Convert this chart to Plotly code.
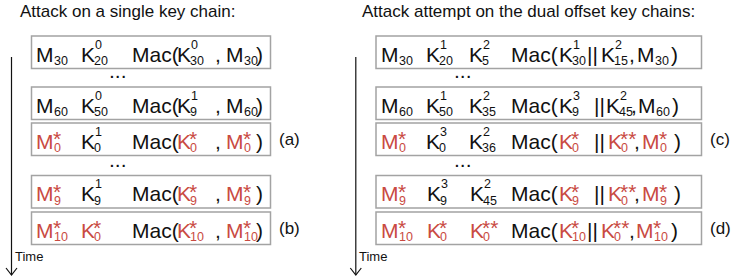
import plotly.graph_objects as go

# ---------------- data ----------------
left_title = "Attack on a single key chain:"
right_title = "Attack attempt on the dual offset key chains:"
axis_label = "Time"

# token = (base, subscript, superscript, is_red)
left_rows = [
    [("M", "30", "", 0), ("K", "20", "0", 0), ("Mac(", "", "", 0), ("K", "30", "0", 0), (",", "", "", 0), ("M", "30", "", 0), (")", "", "", 0)],
    [("M", "60", "", 0), ("K", "50", "0", 0), ("Mac(", "", "", 0), ("K", "9", "1", 0), (",", "", "", 0), ("M", "60", "", 0), (")", "", "", 0)],
    [("M", "0", "*", 1), ("K", "0", "1", 0), ("Mac(", "", "", 0), ("K", "0", "*", 1), (",", "", "", 0), ("M", "0", "*", 1), (")", "", "", 0)],
    [("M", "9", "*", 1), ("K", "9", "1", 0), ("Mac(", "", "", 0), ("K", "9", "*", 1), (",", "", "", 0), ("M", "9", "*", 1), (")", "", "", 0)],
    [("M", "10", "*", 1), ("K", "0", "*", 1), ("Mac(", "", "", 0), ("K", "10", "*", 1), (",", "", "", 0), ("M", "10", "*", 1), (")", "", "", 0)],
]
right_rows = [
    [("M", "30", "", 0), ("K", "20", "1", 0), ("K", "5", "2", 0), ("Mac(", "", "", 0), ("K", "30", "1", 0), ("||", "", "", 0), ("K", "15", "2", 0), (",", "", "", 0), ("M", "30", "", 0), (")", "", "", 0)],
    [("M", "60", "", 0), ("K", "50", "1", 0), ("K", "35", "2", 0), ("Mac(", "", "", 0), ("K", "9", "3", 0), ("||", "", "", 0), ("K", "45", "2", 0), (",", "", "", 0), ("M", "60", "", 0), (")", "", "", 0)],
    [("M", "0", "*", 1), ("K", "0", "3", 0), ("K", "36", "2", 0), ("Mac(", "", "", 0), ("K", "0", "*", 1), ("||", "", "", 0), ("K", "0", "**", 1), (",", "", "", 0), ("M", "0", "*", 1), (")", "", "", 0)],
    [("M", "9", "*", 1), ("K", "9", "3", 0), ("K", "45", "2", 0), ("Mac(", "", "", 0), ("K", "9", "*", 1), ("||", "", "", 0), ("K", "0", "**", 1), (",", "", "", 0), ("M", "9", "*", 1), (")", "", "", 0)],
    [("M", "10", "*", 1), ("K", "0", "*", 1), ("K", "0", "**", 1), ("Mac(", "", "", 0), ("K", "10", "*", 1), ("||", "", "", 0), ("K", "0", "**", 1), (",", "", "", 0), ("M", "10", "*", 1), (")", "", "", 0)],
]
left_labels = ["", "", "(a)", "", "(b)"]
right_labels = ["", "", "(c)", "", "(d)"]
ellipsis = "..."

# ---------------- layout (pixel geometry) ----------------
W, H = 732, 279
FONT = "Liberation Sans, Arial, sans-serif"
INK = "#111111"
RED = "#c94a42"
BOX = "#a3a3a3"

row_tops = [36, 87, 123, 175.5, 212]
row_h = 32.5
left_box_x = (31.5, 270.5)
right_box_x = (376, 701.5)
left_cols = [[37, 82, 133, 178, 216, 227, 257.5]] * 5
right_cols = [
    [382, 427, 470, 512, 560, 588, 602, 630, 638, 672],
    [382, 427, 470, 512, 560, 595, 607, 632, 639, 673],
    [382, 427, 470, 512, 560, 595, 609, 635, 643, 675],
    [382, 428, 471, 512, 560, 595, 609, 635, 643, 675],
    [382, 428, 471, 512, 560, 588, 602, 630, 637, 672],
]
left_label_x, right_label_x = 279, 710
left_dots_x, right_dots_x = 118, 463
dots_y = [77, 166]
left_axis_x, right_axis_x = 11.5, 355.8

BASE_FS, SUB_FS, STAR_FS, TITLE_FS, LABEL_FS, TIME_FS = 21, 12.5, 21, 17, 17, 13
SUB_OFF = {"M": 17, "K": 12}
SUP_OFF = {"M": 16.5, "K": 13.5}
STAR_OFF = {"M": 16, "K": 11}

annotations = []
shapes = []


def txt(x, y, s, size, color, xanchor="left"):
    annotations.append(dict(
        x=x, y=y, xref="x", yref="y", text=s, showarrow=False,
        xanchor=xanchor, yanchor="middle", borderpad=0, borderwidth=0,
        font=dict(family=FONT, size=size, color=color)))


def draw_row(tokens, cols, top):
    for (base, sub, sup, red), x in zip(tokens, cols):
        col = RED if red else INK
        txt(x - 1.5, top + 18.3, base, BASE_FS, col)
        if sub:
            txt(x + SUB_OFF[base] - 0.5, top + 25, sub, SUB_FS, col)
        if sup:
            if sup.startswith("*"):
                txt(x + STAR_OFF[base] - 0.5, top + 10.6 + 0.24 * STAR_FS, sup, STAR_FS, col)
            else:
                txt(x + SUP_OFF[base] - 0.5, top + 8.5, sup, SUB_FS, col)


def panel(rows, cols_list, box_x, labels, label_x, dots_x, axis_x, title, title_x):
    txt(title_x, 11, title, TITLE_FS, INK)
    for tokens, cols, top, lab in zip(rows, cols_list, row_tops, labels):
        shapes.append(dict(type="rect", xref="x", yref="y", x0=box_x[0], x1=box_x[1],
                           y0=top, y1=top + row_h, line=dict(color=BOX, width=1.5)))
        draw_row(tokens, cols, top)
        if lab:
            txt(label_x, top + row_h / 2 + 0.5, lab, LABEL_FS, INK)
    for dy in dots_y:
        txt(dots_x, dy - 6.5, ellipsis, BASE_FS, INK, xanchor="center")
    # time axis with open arrow head
    shapes.append(dict(type="line", xref="x", yref="y", x0=axis_x, x1=axis_x, y0=57, y1=275,
                       line=dict(color=INK, width=1.2)))
    shapes.append(dict(type="path", xref="x", yref="y",
                       path=f"M {axis_x-5.5},268 L {axis_x},275 L {axis_x+5.5},268",
                       line=dict(color=INK, width=1.2)))
    txt(axis_x + 3, 256.5, axis_label, TIME_FS, INK)


panel(left_rows, left_cols, left_box_x, left_labels, left_label_x, left_dots_x,
      left_axis_x, left_title, 19.5)
panel(right_rows, right_cols, right_box_x, right_labels, right_label_x, right_dots_x,
      right_axis_x, right_title, 362)

fig = go.Figure()
fig.update_layout(
    width=W, height=H, margin=dict(l=0, r=0, t=0, b=0),
    paper_bgcolor="white", plot_bgcolor="white",
    xaxis=dict(range=[0, W], visible=False, fixedrange=True),
    yaxis=dict(range=[H, 0], visible=False, fixedrange=True),
    showlegend=False, annotations=annotations, shapes=shapes,
)
fig.write_html("out.html", config={"displayModeBar": False},
               post_script="document.body.style.margin='0px';")
